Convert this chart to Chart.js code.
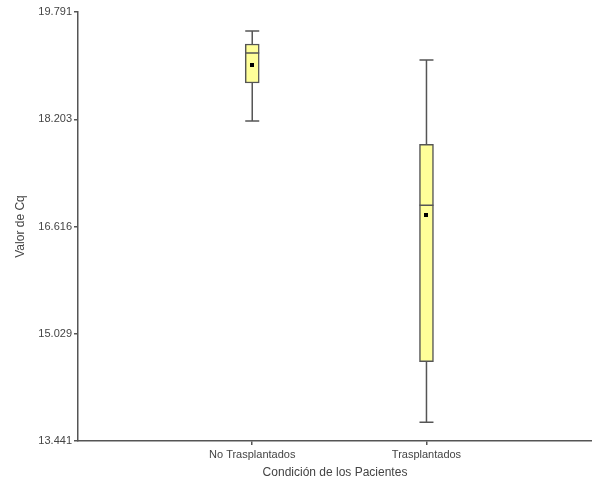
<!DOCTYPE html>
<html>
<head>
<meta charset="utf-8">
<script src="https://cdn.jsdelivr.net/npm/chart.js@4.4.0/dist/chart.umd.min.js"></script>
<style>
  html, body { margin: 0; padding: 0; background: #ffffff; }
  #wrap { width: 592px; height: 479px; }
</style>
</head>
<body>
<div id="wrap"><canvas id="grafica" width="592" height="479"></canvas></div>
<script>
// Datos del diagrama de caja
const categorias = ['No Trasplantados', 'Trasplantados'];
const minimos = [18.178, 13.718];
const q1 = [18.740, 14.615];
const medianas = [19.184, 16.930];
const q3 = [19.317, 17.833];
const maximos = [19.510, 19.080];
const medias = [19.007, 16.786];
const ticksY = [13.441, 15.029, 16.616, 18.203, 19.791];

const colorLinea = '#555555';
const anchoCaja = 14;

// Bigotes y mediana
const bigotes = {
    id: 'bigotes',
    afterDatasetsDraw(chart) {
        const ctx = chart.ctx;
        const x = chart.scales.x;
        const y = chart.scales.y;
        ctx.save();
        ctx.strokeStyle = colorLinea;
        ctx.lineWidth = 1.5;
        for (let i = 0; i < categorias.length; i++) {
            const cx = x.getPixelForValue(i + 1);
            const mitad = anchoCaja / 2;
            ctx.beginPath();
            // bigote superior
            ctx.moveTo(cx, y.getPixelForValue(q3[i]));
            ctx.lineTo(cx, y.getPixelForValue(maximos[i]));
            ctx.moveTo(cx - mitad, y.getPixelForValue(maximos[i]));
            ctx.lineTo(cx + mitad, y.getPixelForValue(maximos[i]));
            // bigote inferior
            ctx.moveTo(cx, y.getPixelForValue(q1[i]));
            ctx.lineTo(cx, y.getPixelForValue(minimos[i]));
            ctx.moveTo(cx - mitad, y.getPixelForValue(minimos[i]));
            ctx.lineTo(cx + mitad, y.getPixelForValue(minimos[i]));
            // mediana
            ctx.moveTo(cx - mitad, y.getPixelForValue(medianas[i]));
            ctx.lineTo(cx + mitad, y.getPixelForValue(medianas[i]));
            ctx.stroke();
        }
        // media encima de todo
        ctx.fillStyle = '#000000';
        for (let i = 0; i < categorias.length; i++) {
            const cx = x.getPixelForValue(i + 1);
            const cy = y.getPixelForValue(medias[i]);
            ctx.fillRect(Math.round(cx - 2), Math.round(cy - 2), 4, 4);
        }
        ctx.restore();
    }
};

const cajas = categorias.map((c, i) => ({ x: i + 1, y: [q1[i], q3[i]] }));

new Chart(document.getElementById('grafica'), {
    type: 'bar',
    data: {
        datasets: [{
            label: 'Valor de Cq',
            data: cajas,
            backgroundColor: '#ffff99',
            borderColor: colorLinea,
            borderWidth: 1.5,
            borderSkipped: false,
            barThickness: anchoCaja
        }]
    },
    plugins: [bigotes],
    options: {
        responsive: false,
        animation: false,
        layout: { padding: { top: 12, right: 0, bottom: 0, left: 0 } },
        plugins: {
            legend: { display: false },
            tooltip: { enabled: false }
        },
        scales: {
            x: {
                type: 'linear',
                min: 0,
                max: 2.95,
                offset: false,
                afterBuildTicks: (scale) => {
                    scale.ticks = categorias.map((c, i) => ({ value: i + 1 }));
                },
                afterFit: (scale) => { scale.height = 38; },
                ticks: {
                    autoSkip: false,
                    maxRotation: 0,
                    padding: 3,
                    color: '#444444',
                    font: { family: 'Liberation Sans', size: 11 },
                    callback: (v) => categorias[Math.round(v) - 1]
                },
                grid: {
                    offset: false,
                    drawOnChartArea: false,
                    drawTicks: true,
                    tickLength: 4,
                    color: colorLinea,
                    lineWidth: 1.5
                },
                border: { color: colorLinea, width: 1.5 },
                title: {
                    display: true,
                    text: 'Condición de los Pacientes',
                    color: '#444444',
                    font: { family: 'Liberation Sans', size: 12, lineHeight: 1 },
                    padding: { top: 0, bottom: 0 }
                }
            },
            y: {
                min: ticksY[0],
                max: ticksY[ticksY.length - 1],
                afterBuildTicks: (scale) => {
                    scale.ticks = ticksY.map(v => ({ value: v }));
                },
                afterFit: (scale) => { scale.width = 78; },
                ticks: {
                    padding: 2,
                    color: '#444444',
                    font: { family: 'Liberation Sans', size: 11 },
                    callback: (v) => v.toFixed(3)
                },
                grid: {
                    drawOnChartArea: false,
                    drawTicks: true,
                    tickLength: 4,
                    color: colorLinea,
                    lineWidth: 1.5
                },
                border: { color: colorLinea, width: 1.5 },
                title: {
                    display: true,
                    text: 'Valor de Cq',
                    color: '#444444',
                    font: { family: 'Liberation Sans', size: 12, lineHeight: 1.2 },
                    padding: { top: 13, bottom: 0 }
                }
            }
        }
    }
});
</script>
</body>
</html>
